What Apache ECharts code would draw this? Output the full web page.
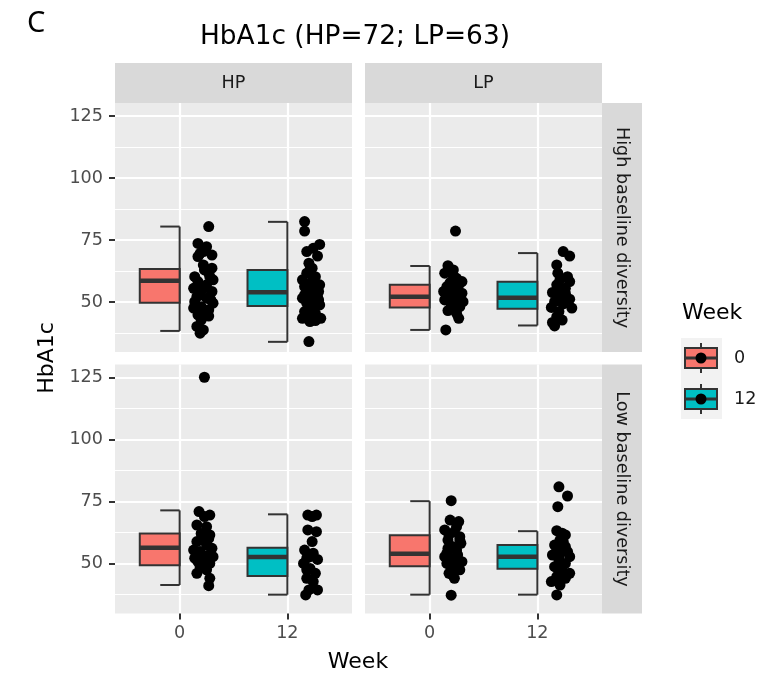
<!DOCTYPE html>
<html>
<head>
<meta charset="utf-8">
<script src="https://cdn.jsdelivr.net/npm/echarts@6/dist/echarts.min.js"></script>
<style>html,body{margin:0;padding:0;background:#fff}#chart{width:764px;height:677px}</style>
</head>
<body>
<div id="chart"></div>
<script>
// facets
var panelCols = ['HP', 'LP'];
var panelRows = ['High baseline diversity', 'Low baseline diversity'];
var weeks = ['0', '12'];
var weekColors = ['#F8766D', '#00BFC4'];
var yTicks = [50, 75, 100, 125];
var yMinorTicks = [37.5, 62.5, 87.5, 112.5];

// box stats: [lower whisker, Q1, median, Q3, upper whisker] for week 0, week 12
var boxHPHigh = [[38.3, 49.7, 58.5, 63.3, 80.4], [33.9, 48.4, 53.9, 62.9, 82.3]];
var boxLPHigh = [[38.7, 47.7, 52.1, 56.9, 64.5], [40.5, 47.2, 51.7, 58.1, 69.7]];
var boxHPLow = [[41.3, 49.3, 56.3, 62.1, 71.4], [37.4, 44.9, 52.6, 56.3, 69.8]];
var boxLPLow = [[37.4, 48.9, 53.9, 61.4, 75.1], [37.4, 47.9, 52.7, 57.4, 63.0]];

// jittered points: [offset right of the week position, HbA1c]
var ptsHPHigh0 = [[0.27,80.4],[0.17,73.6],[0.25,72.3],[0.22,70.3],[0.30,68.9],[0.19,69.6],[0.22,64.9],[0.30,63.6],
  [0.14,60.2],[0.27,61.6],[0.31,58.9],[0.17,58.2],[0.25,56.9],[0.13,55.5],[0.30,54.2],[0.19,52.8],[0.25,51.5],
  [0.14,50.1],[0.31,49.5],[0.20,48.1],[0.13,47.5],[0.27,46.8],[0.17,44.8],[0.27,44.3],[0.20,42.7],[0.16,40.1],
  [0.22,38.7],[0.19,37.4],[0.23,62.9],[0.28,60.2],[0.16,52.1],[0.22,55.5],[0.29,50.8],[0.23,46.1],[0.17,68.3],[0.23,71.6]];
var ptsHPHigh12 = [[0.16,82.4],[0.16,78.6],[0.30,73.2],[0.24,71.6],[0.18,70.3],[0.28,68.5],[0.20,65.6],[0.23,63.6],
  [0.18,61.6],[0.26,60.2],[0.14,58.9],[0.23,58.2],[0.30,56.9],[0.16,56.2],[0.25,54.8],[0.20,53.5],[0.28,52.1],
  [0.14,51.5],[0.23,50.8],[0.18,49.5],[0.30,48.8],[0.21,47.5],[0.16,46.1],[0.26,45.4],[0.31,43.4],[0.14,43.4],
  [0.21,42.1],[0.26,42.5],[0.20,34.0],[0.21,62.9],[0.29,54.2],[0.20,56.9],[0.25,48.1],[0.18,44.1],[0.29,50.8],[0.16,52.8]];
var ptsLPHigh0 = [[0.24,78.6],[0.17,64.6],[0.22,62.9],[0.14,61.6],[0.25,59.5],[0.19,57.8],[0.28,57.5],[0.16,56.2],
  [0.23,54.8],[0.30,53.5],[0.17,52.8],[0.25,51.5],[0.14,50.8],[0.31,50.1],[0.20,49.2],[0.28,48.1],[0.17,46.5],
  [0.25,45.4],[0.27,43.4],[0.15,38.7],[0.20,56.2],[0.26,54.2],[0.19,50.8],[0.23,47.5],[0.13,54.2],[0.30,58.2],
  [0.22,60.5],[0.18,63.6]];
var ptsLPHigh12 = [[0.24,70.3],[0.30,68.5],[0.18,64.9],[0.19,61.6],[0.30,58.2],[0.18,56.9],[0.26,55.5],[0.14,53.8],
  [0.21,52.1],[0.30,51.1],[0.16,50.1],[0.24,49.2],[0.32,47.5],[0.13,47.8],[0.20,46.1],[0.18,44.1],[0.14,41.7],
  [0.16,40.3],[0.21,58.9],[0.26,53.5],[0.20,54.8],[0.24,51.5],[0.23,42.7],[0.28,60.2]];
var ptsHPLow0 = [[0.23,125.1],[0.18,70.9],[0.28,69.5],[0.16,65.5],[0.25,64.8],[0.20,62.1],[0.28,61.5],[0.16,58.8],
  [0.25,57.4],[0.30,56.1],[0.19,54.8],[0.27,53.4],[0.14,52.1],[0.22,51.4],[0.28,50.0],[0.19,48.7],[0.25,47.4],
  [0.16,46.0],[0.28,44.0],[0.27,41.0],[0.23,68.9],[0.22,59.5],[0.13,55.4],[0.31,52.7],[0.23,49.4],[0.20,53.4],
  [0.27,60.1],[0.17,50.7]];
var ptsHPLow12 = [[0.19,69.5],[0.27,69.5],[0.19,63.5],[0.27,62.8],[0.23,58.8],[0.16,55.4],[0.24,54.1],[0.18,52.1],
  [0.28,51.6],[0.15,50.0],[0.21,48.0],[0.26,46.0],[0.18,44.0],[0.24,42.7],[0.28,39.3],[0.17,37.3],[0.20,39.3],
  [0.23,68.9],[0.21,52.7],[0.18,47.4]];
var ptsLPLow0 = [[0.20,75.3],[0.19,67.5],[0.27,66.9],[0.14,63.5],[0.23,62.8],[0.28,60.8],[0.17,59.4],[0.29,58.1],
  [0.21,56.8],[0.16,54.1],[0.26,53.4],[0.20,52.1],[0.30,50.7],[0.16,50.0],[0.23,48.7],[0.28,47.4],[0.18,46.0],
  [0.23,44.0],[0.20,37.2],[0.25,64.8],[0.18,61.5],[0.25,55.4],[0.14,52.7],[0.25,51.4],[0.20,48.0],[0.17,56.1],
  [0.27,49.4],[0.21,45.4],[0.28,59.4]];
var ptsLPLow12 = [[0.20,80.9],[0.28,77.2],[0.19,72.9],[0.18,63.2],[0.26,61.5],[0.21,59.4],[0.16,57.4],[0.26,56.8],
  [0.21,54.8],[0.14,53.4],[0.30,52.7],[0.20,51.4],[0.26,50.0],[0.16,48.7],[0.23,47.4],[0.30,46.0],[0.18,44.7],
  [0.13,42.7],[0.21,41.3],[0.18,37.3],[0.23,62.2],[0.20,52.7],[0.24,58.8],[0.28,54.8],[0.18,56.1],[0.23,49.4],
  [0.26,44.0],[0.20,46.0]];

// panel order: HP/high, LP/high, HP/low, LP/low
var boxes = [boxHPHigh, boxLPHigh, boxHPLow, boxLPLow];
var points = [[ptsHPHigh0, ptsHPHigh12], [ptsLPHigh0, ptsLPHigh12], [ptsHPLow0, ptsHPLow12], [ptsLPLow0, ptsLPLow12]];

var font = 'DejaVu Sans';
var lineCol = '#333333';
var grids = [
  {left: 115, top: 103, width: 237, height: 249},
  {left: 365, top: 103, width: 237, height: 249},
  {left: 115, top: 364.5, width: 237, height: 249},
  {left: 365, top: 364.5, width: 237, height: 249}
];

function renderBox(params, api) {
  var pos = api.value(0);
  var pLo = api.coord([pos, api.value(1)]);
  var pQ1 = api.coord([pos, api.value(2)]);
  var pMd = api.coord([pos, api.value(3)]);
  var pQ3 = api.coord([pos, api.value(4)]);
  var pHi = api.coord([pos, api.value(5)]);
  var wk = api.value(6);
  var unit = api.size([1, 0])[0];
  var xr = pHi[0];
  var xl = xr - 0.37 * unit;
  var xc = xr - 0.18 * unit;
  var ln = {stroke: lineCol, lineWidth: 2};
  return {type: 'group', children: [
    {type: 'line', shape: {x1: xr, y1: pHi[1], x2: xr, y2: pLo[1]}, style: ln},
    {type: 'line', shape: {x1: xc, y1: pHi[1], x2: xr, y2: pHi[1]}, style: ln},
    {type: 'line', shape: {x1: xc, y1: pLo[1], x2: xr, y2: pLo[1]}, style: ln},
    {type: 'rect', shape: {x: xl, y: pQ3[1], width: xr - xl, height: pQ1[1] - pQ3[1]},
      style: {fill: weekColors[wk], stroke: lineCol, lineWidth: 2}},
    {type: 'line', shape: {x1: xl, y1: pMd[1], x2: xr, y2: pMd[1]}, style: {stroke: lineCol, lineWidth: 4.5}}
  ]};
}

var xAxes = [], yAxes = [], series = [];
grids.forEach(function (g, i) {
  var bottom = i >= 2, left = i % 2 === 0;
  xAxes.push({
    type: 'value', gridIndex: i, min: 0.4, max: 2.6,
    axisLine: {show: false},
    axisTick: {show: bottom, length: 6, customValues: [1, 2], lineStyle: {color: lineCol, width: 2}},
    axisLabel: {show: bottom, customValues: [1, 2], margin: 11, fontFamily: font, fontSize: 17.6, color: '#4D4D4D',
      formatter: function (v) { return weeks[Math.round(v) - 1]; }},
    splitLine: {show: true, lineStyle: {color: '#FFFFFF', width: 2.2}}
  });
  yAxes.push({
    type: 'value', gridIndex: i, min: 29.8, max: 130.24,
    axisLine: {show: false},
    axisTick: {show: left, length: 6, customValues: yTicks, lineStyle: {color: lineCol, width: 2}},
    axisLabel: {show: left, customValues: yTicks, margin: 12, fontFamily: font, fontSize: 17.6, color: '#4D4D4D'},
    splitLine: {show: true, lineStyle: {color: '#FFFFFF', width: 2.2}}
  });
  series.push({
    type: 'custom', xAxisIndex: i, yAxisIndex: i, renderItem: renderBox,
    encode: {x: 0, y: [1, 2, 3, 4, 5]},
    data: boxes[i].map(function (b, w) { return [w + 1].concat(b).concat([w]); })
  });
  points[i].forEach(function (pts, w) {
    series.push({
      type: 'scatter', xAxisIndex: i, yAxisIndex: i, symbolSize: 11,
      itemStyle: {color: '#000000', opacity: 1},
      data: pts.map(function (p) { return [w + 1 + p[0], p[1]]; })
    });
  });
});
// minor grid lines
grids.forEach(function (g, i) {
  yAxes.push({
    type: 'value', gridIndex: i, min: 29.8, max: 130.24, position: 'right',
    axisLine: {show: false}, axisLabel: {show: false},
    axisTick: {show: false, customValues: yMinorTicks},
    splitLine: {show: true, lineStyle: {color: '#FFFFFF', width: 1}}
  });
});

var graphics = [
  {type: 'text', left: 27, top: 9, style: {text: 'C', font: '29px "Noto Sans"', fill: '#000'}},
  {type: 'text', x: 355, y: 37, style: {text: 'HbA1c (HP=72; LP=63)', font: '26.4px "DejaVu Sans"', fill: '#000',
    textAlign: 'center', textVerticalAlign: 'middle'}},
  {type: 'text', x: 358, y: 662, style: {text: 'Week', font: '22px "DejaVu Sans"', fill: '#000',
    textAlign: 'center', textVerticalAlign: 'middle'}},
  {type: 'text', x: 47, y: 358, rotation: Math.PI / 2, style: {text: 'HbA1c', font: '22px "DejaVu Sans"', fill: '#000',
    textAlign: 'center', textVerticalAlign: 'middle'}}
];
panelCols.forEach(function (c, j) {
  var g = grids[j];
  graphics.push({type: 'rect', shape: {x: g.left, y: 63, width: g.width, height: 40}, style: {fill: '#D9D9D9'}});
  graphics.push({type: 'text', x: g.left + g.width / 2, y: 83, style: {text: c, font: '17.6px "DejaVu Sans"',
    fill: '#1A1A1A', textAlign: 'center', textVerticalAlign: 'middle'}});
});
panelRows.forEach(function (r, k) {
  var g = grids[k * 2 + 1];
  graphics.push({type: 'rect', shape: {x: 602, y: g.top, width: 40, height: g.height}, style: {fill: '#D9D9D9'}});
  graphics.push({type: 'text', x: 622, y: g.top + g.height / 2, rotation: -Math.PI / 2, style: {text: r,
    font: '17.6px "DejaVu Sans"', fill: '#1A1A1A', textAlign: 'center', textVerticalAlign: 'middle'}});
});
// legend
graphics.push({type: 'text', left: 682, top: 302, style: {text: 'Week', font: '22px "DejaVu Sans"', fill: '#000'}});
graphics.push({type: 'rect', shape: {x: 681, y: 338, width: 41, height: 81}, style: {fill: '#F2F2F2'}});
weeks.forEach(function (w, k) {
  var cy = 358 + k * 41;
  graphics.push({type: 'line', shape: {x1: 701, y1: cy - 15, x2: 701, y2: cy + 15}, style: {stroke: lineCol, lineWidth: 2}});
  graphics.push({type: 'rect', shape: {x: 685, y: cy - 10, width: 32, height: 20},
    style: {fill: weekColors[k], stroke: lineCol, lineWidth: 2}});
  graphics.push({type: 'line', shape: {x1: 685, y1: cy, x2: 717, y2: cy}, style: {stroke: lineCol, lineWidth: 3}});
  graphics.push({type: 'circle', shape: {cx: 701, cy: cy, r: 5.5}, style: {fill: '#000'}});
  graphics.push({type: 'text', x: 734, y: cy, style: {text: w, font: '17.6px "DejaVu Sans"', fill: '#1A1A1A',
    textVerticalAlign: 'middle'}});
});

var chart = echarts.init(document.getElementById('chart'));
chart.setOption({
  animation: false,
  backgroundColor: '#FFFFFF',
  grid: grids.map(function (g) {
    return {left: g.left, top: g.top, width: g.width, height: g.height, show: true,
      backgroundColor: '#EBEBEB', borderWidth: 0};
  }),
  xAxis: xAxes,
  yAxis: yAxes,
  series: series,
  graphic: graphics
});
</script>
</body>
</html>
